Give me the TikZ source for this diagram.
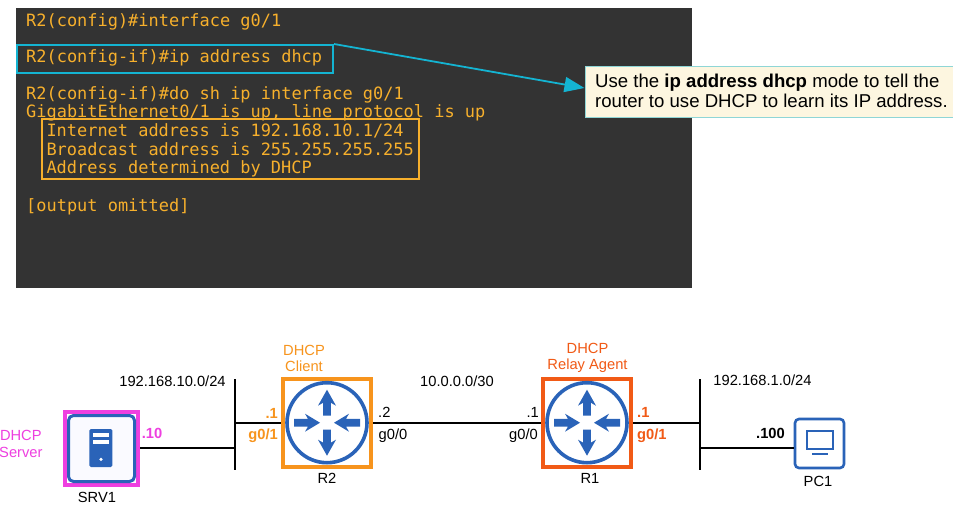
\documentclass[tikz,border=0pt]{standalone}
\usepackage{fontspec}
\setmainfont{Liberation Sans}
\newfontfamily\termfont{DejaVu Sans Mono}
\usetikzlibrary{arrows.meta}
\definecolor{termbg}{HTML}{333333}
\definecolor{termfg}{HTML}{F7B02C}
\definecolor{teal}{HTML}{14B4D2}
\definecolor{calloutbg}{HTML}{FDF6E0}
\definecolor{calloutln}{HTML}{8FD6D6}
\definecolor{iconblue}{HTML}{2A63B8}
\definecolor{orangec}{HTML}{F7941D}
\definecolor{redc}{HTML}{F15A16}
\definecolor{pinkc}{HTML}{EE3FE0}
\tikzset{
  x=1pt,y=-1pt,
  term/.style={anchor=base west,inner sep=0pt,text=termfg,font=\termfont\fontsize{16.95}{20}\selectfont},
  label/.style={inner sep=0pt,font=\fontsize{14.7}{16.2}\selectfont,text=black,align=center},
  blabel/.style={label,font=\bfseries\fontsize{14.7}{16.2}\selectfont},
  hl/.style={draw,line width=2pt,inner sep=0pt,fill=none},
  devbox/.style={inner sep=0pt,minimum width=#1,minimum height=#1},
  link/.style={line width=2pt,black},
}
\newcommand{\routericon}[2]{%
  \begin{scope}[shift={(#1,#2)}]
    \draw[iconblue,line width=3.6pt,fill=white] (0,0) circle[radius=40];
    \foreach \r in {0,180}{
      \begin{scope}[rotate=\r]
        \fill[iconblue] (-33,-3.8) -- (-19,-3.8) -- (-22,-9) -- (-7,0) -- (-22,9) -- (-19,3.8) -- (-33,3.8) -- cycle;
        \fill[iconblue] (-3.8,-7) -- (-3.8,-20) -- (-9,-17) -- (0,-33) -- (9,-17) -- (3.8,-20) -- (3.8,-7) -- cycle;
      \end{scope}
    }
  \end{scope}}
\begin{document}
\begin{tikzpicture}
\useasboundingbox (0,0) rectangle (953,506);
\fill[white] (0,0) rectangle (953,506);
% terminal
\node[fill=termbg,anchor=north west,inner sep=0pt,minimum width=676,minimum height=280] (terminal) at (16,8) {};
\node[term] (l1) at (26,26) {R2(config)\#interface g0/1};
\node[term] (l2) at (26,62) {R2(config-if)\#ip address dhcp};
\node[term] (l3) at (26,99) {R2(config-if)\#do sh ip interface g0/1};
\node[term] (l4) at (26,117.5) {GigabitEthernet0/1 is up, line protocol is up};
\node[term] (l5) at (46.3,136) {Internet address is 192.168.10.1/24};
\node[term] (l6) at (46.3,155) {Broadcast address is 255.255.255.255};
\node[term] (l7) at (46.3,173.5) {Address determined by DHCP};
\node[term] (l8) at (26,211) {[output omitted]};
\node[hl,draw=teal,anchor=north west,minimum width=316,minimum height=28] (cmdbox) at (16,44) {};
\node[hl,draw=termfg,anchor=north west,minimum width=377,minimum height=60] (outbox) at (41,118) {};
% callout
\node[draw=calloutln,line width=1pt,fill=calloutbg,anchor=north west,inner sep=0pt,minimum width=370,minimum height=51] (callout) at (585,65.5) {};
\node[inner sep=0pt,anchor=west,align=left,font=\fontsize{18.6}{20.5}\selectfont,text=black] (callouttext) at (595,91) {Use the \textbf{ip address dhcp} mode to tell the\\router to use DHCP to learn its IP address.};
\coordinate (calltip) at (584.5,88);
\draw[teal,line width=1.8pt,-{Triangle[length=20pt,width=15pt]}] (cmdbox.north east) -- (calltip);
% buses
\coordinate (busLtop) at (235,379);
\coordinate (busLbot) at (235,470);
\coordinate (busRtop) at (700,379);
\coordinate (busRbot) at (700,470);
\draw[link] (busLtop) -- (busLbot);
\draw[link] (busRtop) -- (busRbot);
% devices
\node[devbox=66,fill=white] (srv1) at (101.3,448.5) {};
\node[devbox=88,draw=orangec,line width=4pt] (r2) at (327,423) {};
\node[devbox=88,draw=redc,line width=4pt] (r1) at (587,423) {};
\node[devbox=49,draw=iconblue,line width=2.6pt,rounded corners=4pt,fill=white] (pc1) at (819.5,443.5) {};
% links
\coordinate (busLm) at (235,422.5);
\coordinate (busLs) at (235,448);
\coordinate (busRm) at (700,422.5);
\coordinate (busRp) at (700,448);
\draw[link] (busLs) -- (srv1.east |- busLs);
\draw[link] (busLm) -- (r2.west |- busLm);
\draw[link] (r2.east |- busLm) -- (r1.west |- busLm);
\draw[link] (r1.east |- busRm) -- (busRm);
\draw[link] (busRp) -- (pc1.west |- busRp);
% icons
\routericon{327}{422.7}
\routericon{587}{422.7}
% SRV1
\node[devbox=73,draw=pinkc,line width=4pt] (srvhl) at (101.3,448.5) {};
\draw[iconblue,line width=3pt,rounded corners=5pt,fill=blue!2!white] (68.5,415.5) rectangle (134.5,481.5);
\fill[iconblue,rounded corners=1.5pt] (89.3,429) rectangle (112.3,467);
\fill[white] (92.7,433.3) rectangle (109.3,437.3);
\fill[white] (92.7,440) rectangle (109.3,444.3);
\fill[white] (101,459.3) circle[radius=1.8];
% PC1
\draw[iconblue,line width=1.4pt] (807,431) rectangle (833,449);
\draw[iconblue,line width=1.4pt] (812,454) -- (828,454);
% labels
\node[label,text=pinkc,anchor=west] (lsrv) at (-1,444) {DHCP\\Server};
\node[label] (nsrv) at (97,497) {SRV1};
\node[label] (n1) at (172.5,381) {192.168.10.0/24};
\node[blabel,text=pinkc] (s10) at (152,433) {.10};
\node[blabel,text=orangec,anchor=east] (r2a) at (278,413) {.1};
\node[blabel,text=orangec,anchor=east] (r2b) at (278,436) {g0/1};
\node[label,text=orangec] (r2t) at (304,358.5) {DHCP\\Client};
\node[label] (r2n) at (327,478) {R2};
\node[label,anchor=west] (r2c) at (378,412.5) {.2};
\node[label,anchor=west] (r2d) at (378.5,436) {g0/0};
\node[label] (n2) at (457,381) {10.0.0.0/30};
\node[label,anchor=east] (r1a) at (539,412.5) {.1};
\node[label,anchor=east] (r1b) at (538,436) {g0/0};
\node[label,text=redc] (r1t) at (587.5,357.5) {DHCP\\Relay Agent};
\node[label] (r1n) at (590,478) {R1};
\node[blabel,text=redc,anchor=west] (r1c) at (637,412.5) {.1};
\node[blabel,text=redc,anchor=west] (r1d) at (637,436) {g0/1};
\node[label] (n3) at (762.5,380.5) {192.168.1.0/24};
\node[blabel,text=black,anchor=east] (p100) at (785,433.5) {.100};
\node[label] (pcn) at (818,481.5) {PC1};
\end{tikzpicture}
\end{document}
